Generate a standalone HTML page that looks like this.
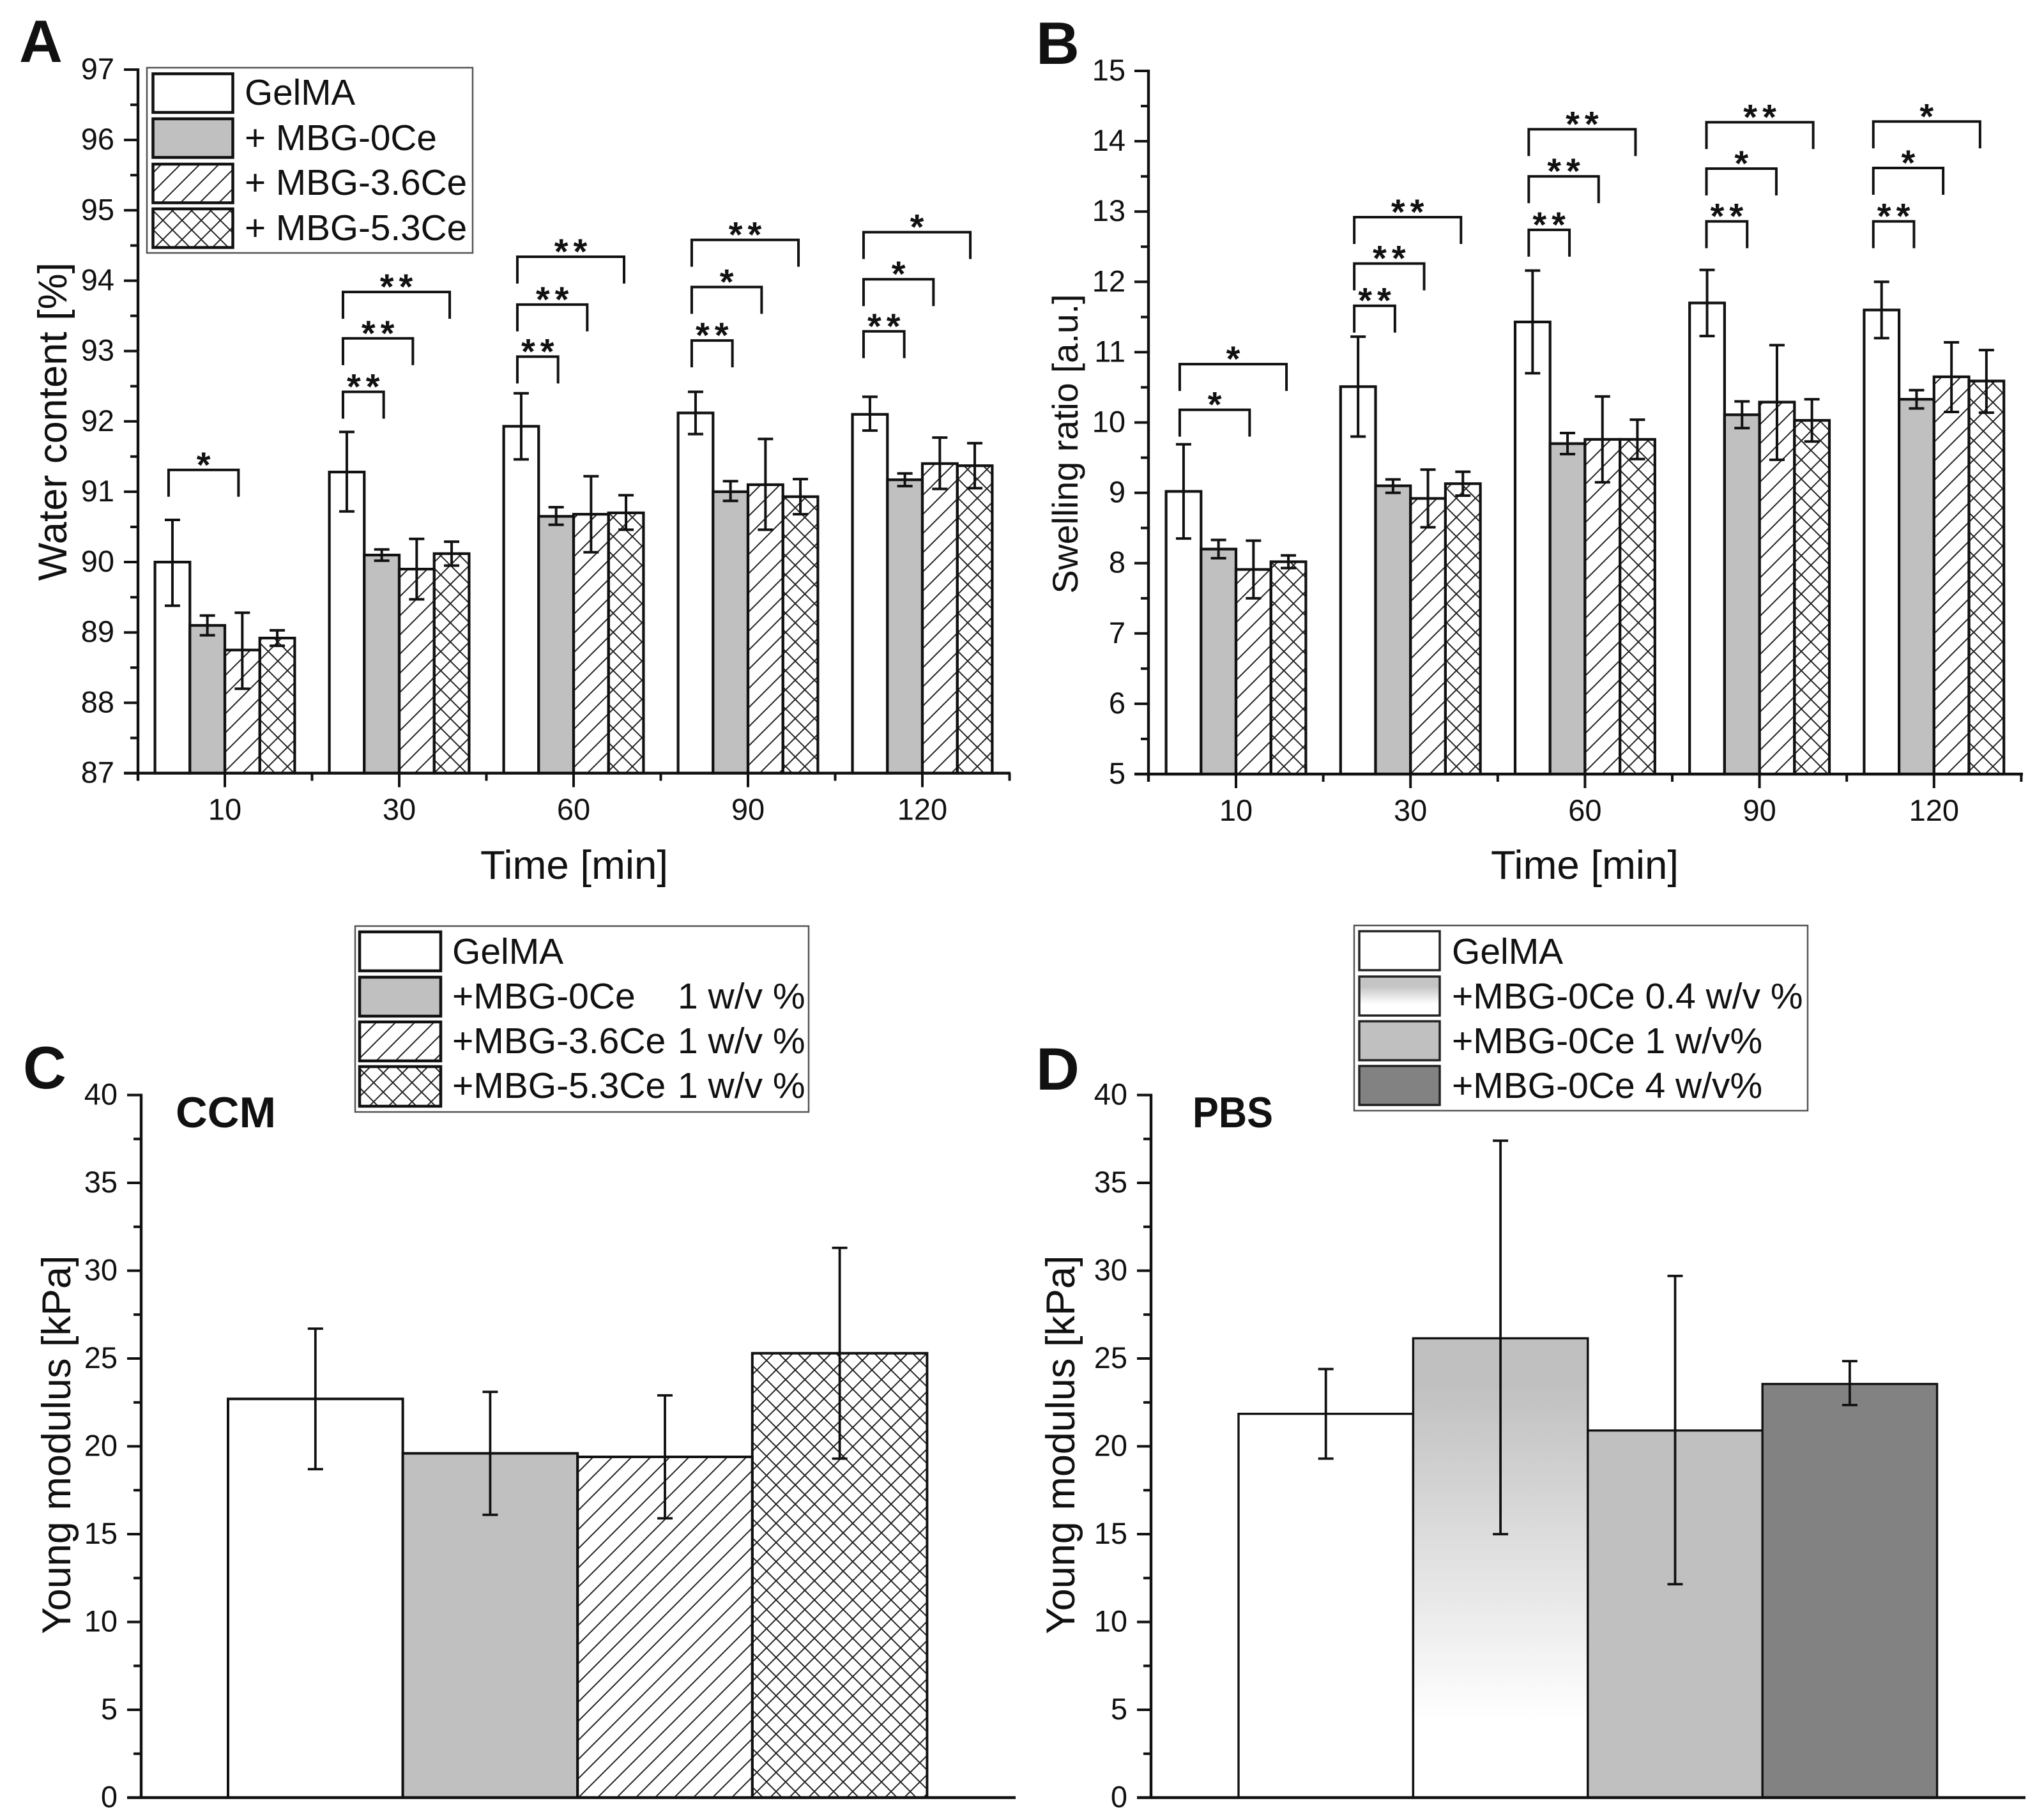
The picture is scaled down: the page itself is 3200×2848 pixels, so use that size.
<!DOCTYPE html>
<html lang="en">
<head>
<meta charset="utf-8">
<title>Hydrogel water content, swelling ratio and Young modulus</title>
<style>
html,body{margin:0;padding:0;background:#fff;}
svg{display:block;}
text{font-family:"Liberation Sans",sans-serif;fill:#111;}
</style>
</head>
<body>
<svg id="figure" xmlns="http://www.w3.org/2000/svg" width="3200" height="2848" viewBox="0 0 3200 2848">
<defs>
<pattern id="hatch" patternUnits="userSpaceOnUse" width="30" height="30">
<path d="M-3 3L3 -3M0 30L30 0M27 33L33 27" stroke="#222" stroke-width="2" fill="none"/>
</pattern>
<pattern id="cross" patternUnits="userSpaceOnUse" width="30" height="30">
<path d="M-3 3L3 -3M0 30L30 0M27 33L33 27M-3 27L3 33M0 0L30 30M27 -3L33 3" stroke="#222" stroke-width="2" fill="none"/>
</pattern>
<linearGradient id="fade" x1="0" y1="0" x2="0" y2="1">
<stop offset="0.1" stop-color="#c0c0c0"/>
<stop offset="0.83" stop-color="#ffffff"/>
</linearGradient>
<linearGradient id="fade-swatch" x1="0" y1="0" x2="0" y2="1">
<stop offset="0.25" stop-color="#c4c4c4"/>
<stop offset="0.7" stop-color="#ffffff"/>
</linearGradient>
</defs>
<rect x="0" y="0" width="3200" height="2848" fill="#fff"/>

<text x="30" y="97" font-size="94" font-weight="700">A</text>
<text x="1622" y="100" font-size="94" font-weight="700">B</text>
<text x="36" y="1704" font-size="94" font-weight="700">C</text>
<text x="1622" y="1706" font-size="94" font-weight="700">D</text>
<text x="275" y="1765" font-size="68" font-weight="700" textLength="157" lengthAdjust="spacingAndGlyphs">CCM</text>
<text x="1867" y="1765" font-size="68" font-weight="700" textLength="126" lengthAdjust="spacingAndGlyphs">PBS</text>

<g id="chart-a"></g>
<g id="chart-b"></g>
<g id="chart-c"></g>
<g id="chart-d"></g>

<g>
<rect x="230" y="106" width="510" height="290" fill="#fff" stroke="#555" stroke-width="2.5"/>
<rect x="239.5" y="115.5" width="125" height="60.5" fill="#fff" stroke="#111" stroke-width="4.5"/>
<rect x="239.5" y="186" width="125" height="60.5" fill="#c0c0c0" stroke="#111" stroke-width="4.5"/>
<rect x="239.5" y="257" width="125" height="60.5" fill="url(#hatch)" stroke="#111" stroke-width="4.5"/>
<rect x="239.5" y="327" width="125" height="60.5" fill="url(#cross)" stroke="#111" stroke-width="4.5"/>
<text x="383" y="164" font-size="56.7">GelMA</text>
<text x="383" y="235" font-size="56.7">+ MBG-0Ce</text>
<text x="383" y="305" font-size="56.7">+ MBG-3.6Ce</text>
<text x="383" y="376" font-size="56.7">+ MBG-5.3Ce</text>
</g>

<g>
<rect x="556" y="1450" width="710" height="291" fill="#fff" stroke="#555" stroke-width="2.5"/>
<rect x="563" y="1459" width="127" height="61" fill="#fff" stroke="#111" stroke-width="4.5"/>
<rect x="563" y="1530" width="127" height="61" fill="#c0c0c0" stroke="#111" stroke-width="4.5"/>
<rect x="563" y="1600" width="127" height="61" fill="url(#hatch)" stroke="#111" stroke-width="4.5"/>
<rect x="563" y="1670" width="127" height="62" fill="url(#cross)" stroke="#111" stroke-width="4.5"/>
<text x="708" y="1509" font-size="57">GelMA</text>
<text x="708" y="1579" font-size="57">+MBG-0Ce</text>
<text x="1061" y="1579" font-size="57">1 w/v %</text>
<text x="708" y="1649" font-size="57">+MBG-3.6Ce</text>
<text x="1061" y="1649" font-size="57">1 w/v %</text>
<text x="708" y="1719" font-size="57">+MBG-5.3Ce</text>
<text x="1061" y="1719" font-size="57">1 w/v %</text>
</g>

<g>
<rect x="2120" y="1449" width="710" height="290" fill="#fff" stroke="#555" stroke-width="2.5"/>
<rect x="2128" y="1458" width="126" height="61" fill="#fff" stroke="#222" stroke-width="3.5"/>
<rect x="2128" y="1529" width="126" height="61" fill="url(#fade-swatch)" stroke="#222" stroke-width="3.5"/>
<rect x="2128" y="1599" width="126" height="61" fill="#c0c0c0" stroke="#222" stroke-width="3.5"/>
<rect x="2128" y="1669" width="126" height="61" fill="#828282" stroke="#222" stroke-width="3.5"/>
<text x="2273" y="1509" font-size="57">GelMA</text>
<text x="2273" y="1579" font-size="57">+MBG-0Ce 0.4 w/v %</text>
<text x="2273" y="1649" font-size="57">+MBG-0Ce 1 w/v%</text>
<text x="2273" y="1719" font-size="57">+MBG-0Ce 4 w/v%</text>
</g>
</svg>

<script>
/* ---------- shared categories ---------- */
const timeCategories = ['10', '30', '60', '90', '120'];

/* ---------- panel A data: water content [%] ---------- */
const waterTicks = [87, 88, 89, 90, 91, 92, 93, 94, 95, 96, 97];
const waterGelma = [90.0, 91.28, 91.93, 92.12, 92.1];
const waterGelmaLow = [89.38, 90.72, 91.46, 91.82, 91.87];
const waterGelmaHigh = [90.6, 91.85, 92.4, 92.42, 92.35];
const water0Ce = [89.1, 90.1, 90.65, 91.0, 91.17];
const water0CeLow = [88.96, 90.02, 90.53, 90.87, 91.08];
const water0CeHigh = [89.24, 90.18, 90.78, 91.15, 91.26];
const water36Ce = [88.75, 89.9, 90.68, 91.1, 91.4];
const water36CeLow = [88.2, 89.47, 90.14, 90.46, 91.04];
const water36CeHigh = [89.28, 90.33, 91.22, 91.75, 91.77];
const water53Ce = [88.92, 90.12, 90.7, 90.93, 91.37];
const water53CeLow = [88.81, 89.95, 90.46, 90.68, 91.05];
const water53CeHigh = [89.03, 90.29, 90.95, 91.18, 91.69];
/* significance brackets: category index, compared bar, bracket height (value), stars */
const waterSigGroup = [0, 1, 1, 1, 2, 2, 2, 3, 3, 3, 4, 4, 4];
const waterSigBar = [2, 1, 2, 3, 1, 2, 3, 1, 2, 3, 1, 2, 3];
const waterSigLevel = [91.31, 92.42, 93.18, 93.84, 92.92, 93.66, 94.34, 93.15, 93.91, 94.58, 93.28, 94.02, 94.69];
const waterSigStars = ['*', '**', '**', '**', '**', '**', '**', '**', '*', '**', '**', '*', '*'];

/* ---------- panel B data: swelling ratio ---------- */
const swellTicks = [5, 6, 7, 8, 9, 10, 11, 12, 13, 14, 15];
const swellGelma = [9.02, 10.51, 11.43, 11.7, 11.6];
const swellGelmaLow = [8.35, 9.8, 10.7, 11.23, 11.2];
const swellGelmaHigh = [9.69, 11.22, 12.16, 12.17, 12.0];
const swell0Ce = [8.2, 9.1, 9.7, 10.11, 10.33];
const swell0CeLow = [8.07, 9.0, 9.55, 9.92, 10.2];
const swell0CeHigh = [8.33, 9.19, 9.85, 10.3, 10.46];
const swell36Ce = [7.91, 8.92, 9.76, 10.29, 10.65];
const swell36CeLow = [7.5, 8.51, 9.15, 9.47, 10.15];
const swell36CeHigh = [8.32, 9.33, 10.37, 11.1, 11.14];
const swell53Ce = [8.02, 9.13, 9.76, 10.03, 10.59];
const swell53CeLow = [7.93, 8.96, 9.48, 9.73, 10.14];
const swell53CeHigh = [8.11, 9.3, 10.04, 10.33, 11.03];
const swellSigGroup = [0, 0, 1, 1, 1, 2, 2, 2, 3, 3, 3, 4, 4, 4];
const swellSigBar = [2, 3, 1, 2, 3, 1, 2, 3, 1, 2, 3, 1, 2, 3];
const swellSigLevel = [10.18, 10.83, 11.66, 12.26, 12.92, 12.74, 13.5, 14.17, 12.86, 13.61, 14.27, 12.86, 13.62, 14.28];
const swellSigStars = ['*', '*', '**', '**', '**', '**', '**', '**', '**', '*', '**', '**', '*', '*'];

/* ---------- panels C and D data: Young modulus [kPa] ---------- */
const modulusTicks = [0, 5, 10, 15, 20, 25, 30, 35, 40];
const ccmValues = [22.7, 19.6, 19.4, 25.3];
const ccmLow = [18.7, 16.1, 15.9, 19.3];
const ccmHigh = [26.7, 23.1, 22.9, 31.3];
const pbsValues = [21.85, 26.15, 20.9, 23.55];
const pbsLow = [19.3, 15.0, 12.15, 22.35];
const pbsHigh = [24.4, 37.4, 29.7, 24.85];

const NS = 'http://www.w3.org/2000/svg';
const bracketEndShift = [0, 3, -6, -3];

function make(tag, attrs, parent, txt) {
  const node = document.createElementNS(NS, tag);
  for (const k in attrs) node.setAttribute(k, attrs[k]);
  if (txt !== undefined) node.textContent = txt;
  parent.appendChild(node);
  return node;
}

function drawAxes(root, cfg, y) {
  const base = y(cfg.yMin);
  const top = y(cfg.yMax);
  const yAxis = make('line', {x1: cfg.axisX, x2: cfg.axisX, y1: top - 2, y2: base + cfg.axisOvershoot, stroke: '#111', 'stroke-width': 4.4}, root);
  
  
  const xAxis = make('line', {x1: cfg.axisX - 22, x2: cfg.axisEnd, y1: base, y2: base, stroke: '#111', 'stroke-width': 4.4}, root);
  
  

  cfg.ticks.forEach(function (v, i) {
    const major = make('line', {x1: cfg.axisX - 22, x2: cfg.axisX, y1: y(v), y2: y(v), stroke: '#111', 'stroke-width': 4}, root);
    
    
    const label = make('text', {x: cfg.tickLabelX, y: y(v) + 15, 'font-size': 47, 'text-anchor': 'end'}, root, String(v));
    
    
    if (i < cfg.ticks.length - 1) {
      const mid = (v + cfg.ticks[i + 1]) / 2;
      const minor = make('line', {x1: cfg.axisX - 12, x2: cfg.axisX, y1: y(mid), y2: y(mid), stroke: '#111', 'stroke-width': 4}, root);
      
      
    }
  });

  const yTitle = make('text', {
    transform: 'translate(' + cfg.yTitleX + ' ' + cfg.yTitleY + ') rotate(-90)',
    'font-size': cfg.yTitleSize, 'text-anchor': 'middle'
  }, root, cfg.yTitle);
  
  
}

function drawBar(root, x, w, y, base, v, fill, strokeW) {
  const bar = make('rect', {x: x, y: y(v), width: w, height: base - y(v), fill: fill, stroke: '#111', 'stroke-width': strokeW}, root);
  
  
}

function drawError(root, cx, y, lo, hi, capHalf, strokeW) {
  const stem = make('line', {x1: cx, x2: cx, y1: y(hi), y2: y(lo), stroke: '#111', 'stroke-width': strokeW}, root);
  
  
  const capHi = make('line', {x1: cx - capHalf, x2: cx + capHalf, y1: y(hi), y2: y(hi), stroke: '#111', 'stroke-width': strokeW}, root);
  
  
  const capLo = make('line', {x1: cx - capHalf, x2: cx + capHalf, y1: y(lo), y2: y(lo), stroke: '#111', 'stroke-width': strokeW}, root);
  
  
}

function drawGrouped(cfg) {
  const root = document.getElementById(cfg.id);
  const y = function (v) { return cfg.yBottom - (v - cfg.yMin) * (cfg.yBottom - cfg.yTop) / (cfg.yMax - cfg.yMin); };
  const x = function (i) { return cfg.firstTick + i * cfg.step; };
  const base = y(cfg.yMin);
  const fills = ['#fff', '#c0c0c0', 'url(#hatch)', 'url(#cross)'];

  cfg.series.forEach(function (s, si) {
    s.values.forEach(function (v, g) {
      const left = x(g) + (si - 2) * cfg.barW;
      drawBar(root, left, cfg.barW, y, base, v, fills[si], 4.2);
      drawError(root, left + cfg.barW / 2, y, s.low[g], s.high[g], 12, 4);
    });
  });

  drawAxes(root, cfg, y);

  timeCategories.forEach(function (c, i) {
    const major = make('line', {x1: x(i), x2: x(i), y1: base, y2: base + 22, stroke: '#111', 'stroke-width': 4}, root);
    
    
    const minor = make('line', {x1: x(i) + cfg.step / 2, x2: x(i) + cfg.step / 2, y1: base, y2: base + 12, stroke: '#111', 'stroke-width': 4}, root);
    
    
    const label = make('text', {x: x(i), y: base + 73, 'font-size': 47, 'text-anchor': 'middle'}, root, c);
    
    
  });

  const xTitle = make('text', {x: cfg.xTitleX, y: 1376, 'font-size': 63.5, 'text-anchor': 'middle'}, root, 'Time [min]');
  
  

  cfg.sigLevel.forEach(function (level, i) {
    const g = cfg.sigGroup[i];
    const nudge = cfg.groupNudge[g];
    const x0 = x(g) - 1.5 * cfg.barW - 6 + nudge;
    const x1 = x(g) + (cfg.sigBar[i] - 1.5) * cfg.barW + bracketEndShift[cfg.sigBar[i]] + nudge;
    const top = y(level);
    const bracket = make('path', {
      d: 'M' + x0 + ' ' + (top + 42) + 'V' + top + 'H' + x1 + 'V' + (top + 42),
      fill: 'none', stroke: '#111', 'stroke-width': 4
    }, root);
    
    
    const star = make('text', {
      x: (x0 + x1) / 2 + (cfg.sigStars[i].length > 1 ? 4 : 0), y: top + 11, 'font-size': 56, 'font-weight': 700,
      'text-anchor': 'middle', 'letter-spacing': cfg.sigStars[i].length > 1 ? 8 : 0
    }, root, cfg.sigStars[i]);
    
    
  });
}

function drawSimple(cfg) {
  const root = document.getElementById(cfg.id);
  const y = function (v) { return cfg.yBottom - (v - cfg.yMin) * (cfg.yBottom - cfg.yTop) / (cfg.yMax - cfg.yMin); };
  const base = y(cfg.yMin);
  cfg.values.forEach(function (v, i) {
    drawBar(root, cfg.firstBar + i * cfg.barW, cfg.barW, y, base, v, cfg.fills[i], cfg.barStroke);
  });
  cfg.values.forEach(function (v, i) {
    drawError(root, cfg.firstBar + (i + 0.5) * cfg.barW, y, cfg.low[i], cfg.high[i], 12, 3.8);
  });
  drawAxes(root, cfg, y);
}

drawGrouped({
  id: 'chart-a', yMin: 87, yMax: 97, yTop: 109, yBottom: 1210.5, axisX: 216, axisEnd: 1582, axisOvershoot: 12,
  firstTick: 352, step: 273, barW: 54.7, ticks: waterTicks, tickLabelX: 179,
  yTitle: 'Water content [%]', yTitleX: 104, yTitleY: 660, yTitleSize: 63, xTitleX: 899,
  series: [
    {values: waterGelma, low: waterGelmaLow, high: waterGelmaHigh},
    {values: water0Ce, low: water0CeLow, high: water0CeHigh},
    {values: water36Ce, low: water36CeLow, high: water36CeHigh},
    {values: water53Ce, low: water53CeLow, high: water53CeHigh}
  ],
  sigGroup: waterSigGroup, sigBar: waterSigBar, sigLevel: waterSigLevel, sigStars: waterSigStars,
  groupNudge: [0, 0, 0, 0, -4]
});

drawGrouped({
  id: 'chart-b', yMin: 5, yMax: 15, yTop: 111, yBottom: 1212, axisX: 1798, axisEnd: 3167, axisOvershoot: 12,
  firstTick: 1935, step: 273.2, barW: 54.7, ticks: swellTicks, tickLabelX: 1762,
  yTitle: 'Swelling ratio [a.u.]', yTitleX: 1687, yTitleY: 695, yTitleSize: 55.5, xTitleX: 2481,
  series: [
    {values: swellGelma, low: swellGelmaLow, high: swellGelmaHigh},
    {values: swell0Ce, low: swell0CeLow, high: swell0CeHigh},
    {values: swell36Ce, low: swell36CeLow, high: swell36CeHigh},
    {values: swell53Ce, low: swell53CeLow, high: swell53CeHigh}
  ],
  sigGroup: swellSigGroup, sigBar: swellSigBar, sigLevel: swellSigLevel, sigStars: swellSigStars,
  groupNudge: [0, 0, 0, 5, -7]
});

drawSimple({
  id: 'chart-c', yMin: 0, yMax: 40, yTop: 1714.5, yBottom: 2814.5, axisX: 221, axisEnd: 1590, axisOvershoot: 0,
  firstBar: 357, barW: 273.6, barStroke: 4, ticks: modulusTicks, tickLabelX: 184,
  yTitle: 'Young modulus [kPa]', yTitleX: 110, yTitleY: 2262, yTitleSize: 63,
  values: ccmValues, low: ccmLow, high: ccmHigh,
  fills: ['#fff', '#c0c0c0', 'url(#hatch)', 'url(#cross)']
});

drawSimple({
  id: 'chart-d', yMin: 0, yMax: 40, yTop: 1714.5, yBottom: 2814.5, axisX: 1802, axisEnd: 3171, axisOvershoot: 0,
  firstBar: 1939, barW: 273.4, barStroke: 3.4, ticks: modulusTicks, tickLabelX: 1765,
  yTitle: 'Young modulus [kPa]', yTitleX: 1682, yTitleY: 2262, yTitleSize: 63,
  values: pbsValues, low: pbsLow, high: pbsHigh,
  fills: ['#fff', 'url(#fade)', '#c0c0c0', '#828282']
});
</script>
</body>
</html>
